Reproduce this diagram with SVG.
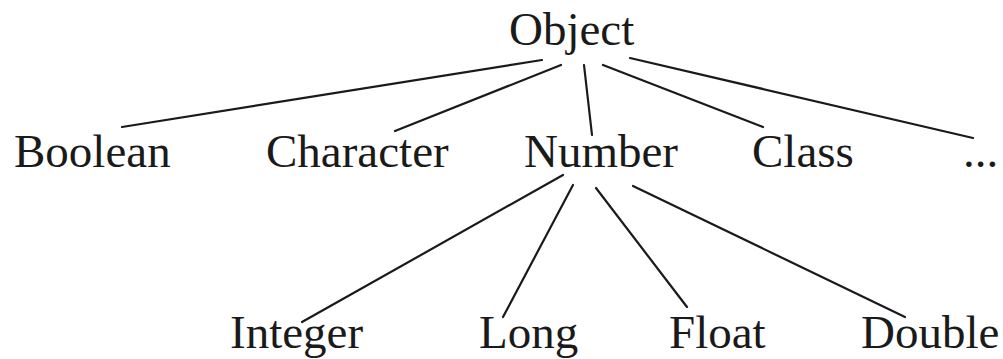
<svg xmlns="http://www.w3.org/2000/svg" width="1003" height="359" viewBox="0 0 1003 359">
<style>
.t{font-family:"Liberation Serif","Times New Roman",serif;font-size:47px;fill:#1a1a1a}
.c line{stroke:#1a1a1a;stroke-width:2.2;stroke-linecap:round}
</style>
<rect width="1003" height="359" fill="#fff"/>
<g class="c" id="connectors">
<line x1="542" y1="60" x2="122" y2="127"/>
<line x1="561" y1="65" x2="395" y2="131"/>
<line x1="584" y1="65" x2="592" y2="135"/>
<line x1="603" y1="65" x2="763" y2="127"/>
<line x1="630" y1="58" x2="973" y2="138"/>
<line x1="563" y1="175" x2="302" y2="322"/>
<line x1="573" y1="185" x2="503" y2="317"/>
<line x1="596" y1="188" x2="687" y2="307"/>
<line x1="633" y1="186" x2="905" y2="317"/>
</g>
<g id="object"><text class="t" x="509" y="45">Object</text></g>
<g id="boolean"><text class="t" x="14" y="167">Boolean</text></g>
<g id="character"><text class="t" x="266" y="167">Character</text></g>
<g id="number"><text class="t" x="524" y="167">Number</text></g>
<g id="class"><text class="t" x="752" y="167">Class</text></g>
<g id="more"><text class="t" x="963" y="167">...</text></g>
<g id="integer"><text class="t" x="230" y="348">Integer</text></g>
<g id="long"><text class="t" x="479" y="348">Long</text></g>
<g id="float"><text class="t" x="669" y="348">Float</text></g>
<g id="double"><text class="t" x="861" y="348">Double</text></g>
</svg>
